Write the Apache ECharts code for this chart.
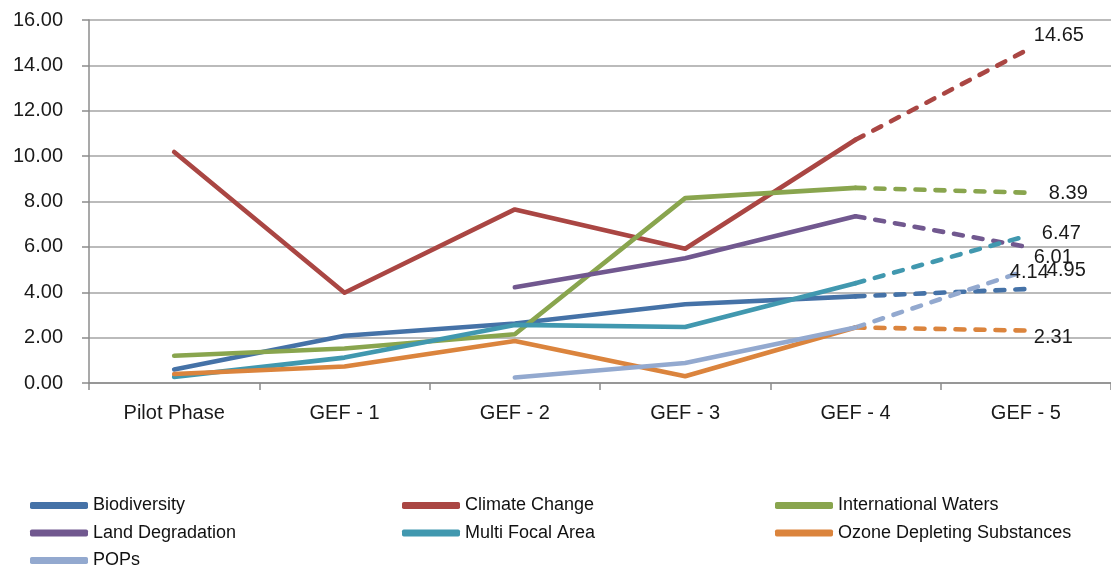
<!DOCTYPE html>
<html>
<head>
<meta charset="utf-8">
<script src="https://cdn.jsdelivr.net/npm/echarts@6/dist/echarts.min.js"></script>
<style>
html,body{margin:0;padding:0;background:#fff;}
#chart{width:1111px;height:568px;}
</style>
</head>
<body>
<div id="chart"></div>
<script>
var categories = ['Pilot Phase', 'GEF - 1', 'GEF - 2', 'GEF - 3', 'GEF - 4', 'GEF - 5'];
var yTicks = [0, 2, 4, 6, 8, 10, 12, 14, 16];

var biodiversity      = [0.60, 2.08, 2.62, 3.47, 3.82, 4.14];
var climateChange     = [10.18, 3.98, 7.65, 5.92, 10.72, 14.65];
var internationalWaters = [1.20, 1.52, 2.15, 8.15, 8.60, 8.39];
var landDegradation   = [null, null, 4.22, 5.50, 7.35, 6.01];
var multiFocalArea    = [0.27, 1.12, 2.56, 2.47, 4.40, 6.47];
var ozoneDepleting    = [0.40, 0.73, 1.85, 0.30, 2.45, 2.31];
var pops              = [null, null, 0.24, 0.88, 2.45, 4.95];

var seriesNames = ['Biodiversity', 'Climate Change', 'International Waters', 'Land Degradation', 'Multi Focal Area', 'Ozone Depleting Substances', 'POPs'];
var seriesValues = [biodiversity, climateChange, internationalWaters, landDegradation, multiFocalArea, ozoneDepleting, pops];

// styles (kept apart from data)
var colors = ['#4572A7', '#AA4643', '#89A54E', '#71588F', '#4198AF', '#DB843D', '#93A9CF'];
var labelOffsets = [[-16, -17], [8, -15], [23, 1], [8, 11], [16, -3], [8, 7], [21, 0]];
var projStart = 4;

var series = [];
seriesNames.forEach(function (name, k) {
  var vals = seriesValues[k];
  series.push({
    name: name,
    type: 'line',
    data: vals.map(function (v, i) { return i <= projStart ? v : null; }),
    showSymbol: false,
    symbol: 'none',
    lineStyle: { color: colors[k], width: 4.6, cap: 'round', join: 'round' },
    itemStyle: { color: colors[k] },
    z: 3
  });
  series.push({
    name: name + ' (projected)',
    type: 'line',
    data: vals.map(function (v, i) { return i >= projStart ? v : null; }),
    showSymbol: false,
    symbol: 'none',
    lineStyle: { color: colors[k], width: 4.6, type: [9, 11], cap: 'round' },
    itemStyle: { color: colors[k] },
    endLabel: {
      show: true,
      distance: 0,
      offset: labelOffsets[k],
      align: 'left',
      verticalAlign: 'middle',
      color: '#1a1a1a',
      fontFamily: 'Liberation Sans',
      fontSize: 20,
      formatter: function (p) {
        var v = Array.isArray(p.value) ? p.value[p.value.length - 1] : p.value;
        return Number(v).toFixed(2);
      }
    },
    z: 2
  });
});

var legendText = { color: '#111', fontFamily: 'Liberation Sans', fontSize: 18, lineHeight: 19 };
function makeLegend(left, names) {
  return {
    left: left, top: 496, orient: 'vertical',
    width: 340, height: 120,
    data: names,
    icon: 'roundRect',
    itemWidth: 58, itemHeight: 7,
    itemGap: 8.5,
    textStyle: legendText,
    selectedMode: false,
    padding: 0
  };
}

var chart = echarts.init(document.getElementById('chart'), null, { renderer: 'canvas' });
chart.setOption({
  animation: false,
  backgroundColor: '#fff',
  grid: { left: 89, top: 20, width: 1029, height: 363, containLabel: false },
  xAxis: {
    type: 'category',
    data: categories,
    boundaryGap: true,
    axisLine: { show: true, lineStyle: { color: '#8c8c8c', width: 1.5 } },
    axisTick: { show: true, length: 7, alignWithLabel: false, lineStyle: { color: '#8c8c8c', width: 1.5 } },
    axisLabel: { color: '#1a1a1a', fontFamily: 'Liberation Sans', fontSize: 20, margin: 20 },
    splitLine: { show: false }
  },
  yAxis: {
    type: 'value',
    min: yTicks[0], max: yTicks[yTicks.length - 1], interval: yTicks[1] - yTicks[0],
    axisLine: { show: true, lineStyle: { color: '#8c8c8c', width: 1.5 } },
    axisTick: { show: true, length: 7, lineStyle: { color: '#8c8c8c', width: 1.5 } },
    axisLabel: {
      color: '#1a1a1a', fontFamily: 'Liberation Sans', fontSize: 20, margin: 26,
      formatter: function (v) { return v.toFixed(2); }
    },
    splitLine: { show: true, lineStyle: { color: '#a4a4a4', width: 1.5 } }
  },
  legend: [
    makeLegend(30, ['Biodiversity', 'Land Degradation', 'POPs']),
    makeLegend(402, ['Climate Change', 'Multi Focal Area']),
    makeLegend(775, ['International Waters', 'Ozone Depleting Substances'])
  ],
  series: series
});
</script>
</body>
</html>
